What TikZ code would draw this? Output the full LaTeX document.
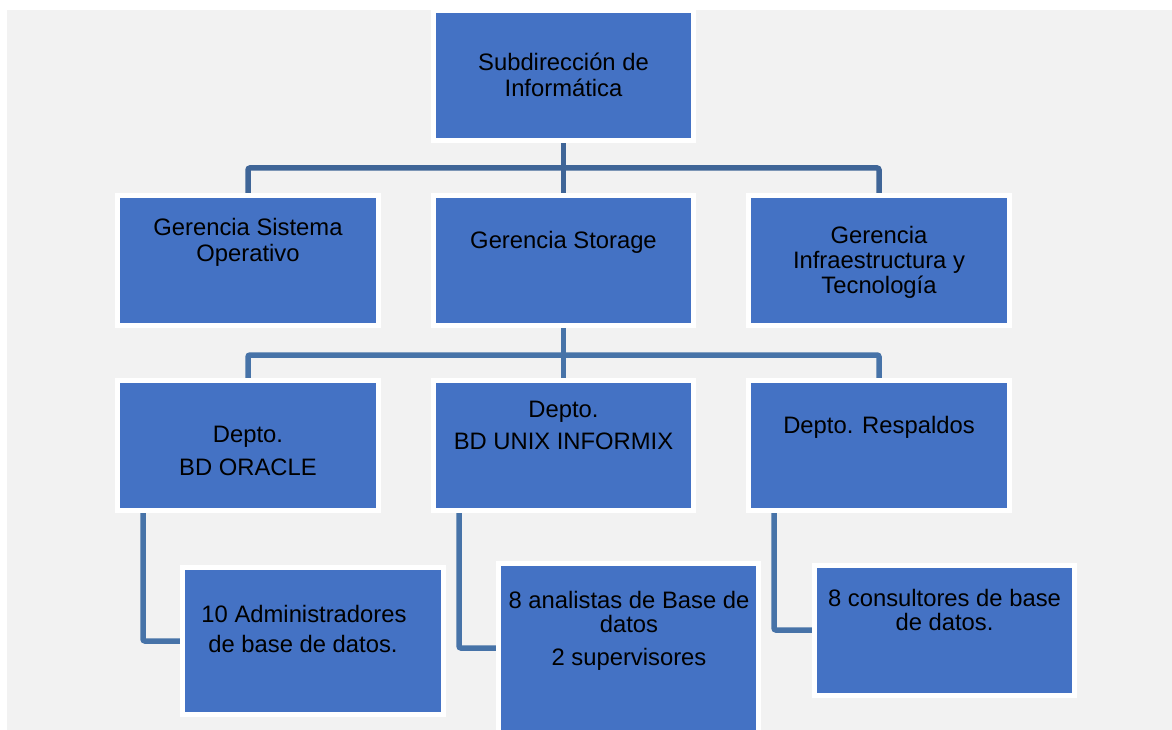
\documentclass[tikz,border=0pt]{standalone}
\usepackage{fontspec}
\setmainfont{Liberation Sans}
\definecolor{boxblue}{HTML}{4472C4}
\definecolor{pagegray}{HTML}{F2F2F2}
\definecolor{lineA}{HTML}{3F6597}
\definecolor{lineB}{HTML}{4773A8}
\pgfdeclarelayer{bg}
\pgfdeclarelayer{lines}
\pgfsetlayers{bg,lines,main}
\tikzset{
  orgbox/.style={rectangle, fill=boxblue, draw=white, line width=5pt, inner sep=0pt},
  txt/.style={anchor=base, inner sep=0pt, font=\fontsize{23.8}{25}\selectfont, text=black},
  connA/.style={draw=lineA, line width=5.5pt, rounded corners=2pt},
  connB/.style={draw=lineB, line width=5.5pt, rounded corners=2pt}
}
\begin{document}
\begin{tikzpicture}[x=1pt,y=-1pt]
\useasboundingbox (0,0) rectangle (1172,730);
\clip (0,0) rectangle (1172,730);
\begin{pgfonlayer}{bg}
\fill[white] (0,0) rectangle (1172,730);
\fill[pagegray] (7,10) rectangle (1172,730);
\end{pgfonlayer}
% boxes (blue extents + 5 for centered white border)
\node[orgbox, minimum width=260pt, minimum height=130pt] (top) at (563.5,75.5) {};
\node[orgbox, minimum width=261pt, minimum height=130pt] (so) at (248,260.5) {};
\node[orgbox, minimum width=260pt, minimum height=130pt] (sto) at (563.5,260.5) {};
\node[orgbox, minimum width=261pt, minimum height=130pt] (inf) at (879,260.5) {};
\node[orgbox, minimum width=261pt, minimum height=130pt] (ora) at (248,445.5) {};
\node[orgbox, minimum width=260pt, minimum height=130pt] (unx) at (563.5,445.5) {};
\node[orgbox, minimum width=261pt, minimum height=130pt] (res) at (879,445.5) {};
\node[orgbox, minimum width=261pt, minimum height=147pt] (adm) at (313,641) {};
\node[orgbox, minimum width=260pt, minimum height=182pt] (ana) at (628.5,654) {};
\node[orgbox, minimum width=260pt, minimum height=130pt] (con) at (944.5,630.5) {};
% texts
\node[txt] (t1a) at (563.5,71) {Subdirección de};
\node[txt] (t1b) at (563.5,97) {Informática};
\node[txt] (t2a) at (248,235) {Gerencia Sistema};
\node[txt] (t2b) at (248,261) {Operativo};
\node[txt] (t3a) at (563.5,248) {Gerencia Storage};
\node[txt] (t4a) at (879,243) {Gerencia};
\node[txt] (t4b) at (879,268) {Infraestructura y};
\node[txt] (t4c) at (879,293) {Tecnología};
\node[txt] (t5a) at (248,442) {Depto.};
\node[txt] (t5b) at (248,475) {BD ORACLE};
\node[txt] (t6a) at (563.5,417) {Depto.};
\node[txt] (t6b) at (563.5,449) {BD UNIX INFORMIX};
\node[txt] (t7a) at (879,433) {Depto. Respaldos};
\node[txt] (t8a) at (304,622) {10 Administradores};
\node[txt] (t8b) at (303,652) {de base de datos.};
\node[txt] (t9a) at (629,608) {8 analistas de Base de};
\node[txt] (t9b) at (629,632) {datos};
\node[txt] (t9c) at (629,665) {2 supervisores};
\node[txt] (t10a) at (944.5,606) {8 consultores de base};
\node[txt] (t10b) at (944.5,630) {de datos.};
% connectors
\coordinate (bus1) at (563.5,168);
\coordinate (bus2) at (563.5,355);
\coordinate (e1) at (143,641);
\coordinate (e2) at (459,648);
\coordinate (e3) at (774,630);
\begin{pgfonlayer}{lines}
\draw[connA] (top.south) -- (sto.north);
\draw[connA] (so.north) |- (bus1) -| (inf.north);
\draw[connB] (sto.south) -- (unx.north);
\draw[connB] (ora.north) |- (bus2) -| (res.north);
\draw[connB] (ora.south -| e1) -- (e1) -- (adm.west |- e1);
\draw[connB] (unx.south -| e2) -- (e2) -- (ana.west |- e2);
\draw[connB] (res.south -| e3) -- (e3) -- (con.west |- e3);
\end{pgfonlayer}
\end{tikzpicture}
\end{document}
